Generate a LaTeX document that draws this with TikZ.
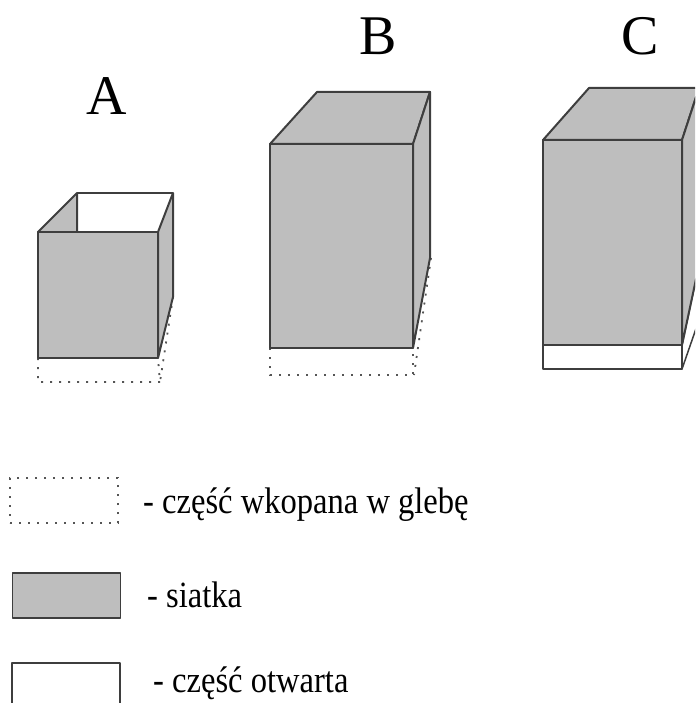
\documentclass[tikz,border=0pt]{standalone}
\usepackage{fontspec}
\setmainfont{Liberation Serif}
\definecolor{netgray}{RGB}{190,190,190}
\definecolor{edgegray}{RGB}{62,62,62}
\definecolor{dotgray}{RGB}{85,85,85}
\begin{document}
\begin{tikzpicture}[x=1pt,y=-1pt,
  net/.style={fill=netgray, draw=edgegray, line width=2pt, line join=round},
  openpart/.style={fill=white, draw=edgegray, line width=1.5pt, line join=round},
  buried/.style={draw=dotgray, line width=1.8pt, dash pattern=on 2pt off 7pt},
  boxlabel/.style={inner sep=0pt, anchor=base, font=\fontsize{56}{60}\selectfont},
  legtext/.style={inner sep=0pt, anchor=base west, font=\fontsize{37}{40}\selectfont},
  legbox/.style={inner sep=0pt, minimum width=108pt, minimum height=45pt}]
\clip (0,0) rectangle (695,703);

% --- A: open-topped cage, partly dug in ---
\draw[buried] (38,358) -- (38,382) -- (160,382) -- (158,358);
\draw[buried] (173,297) -- (160,382);
\draw[net] (158,232) -- (173,193) -- (173,297) -- (158,358) -- cycle;
\draw[net] (38,232) -- (77,193) -- (77,232) -- cycle;
\draw[edgegray, line width=2pt] (77,193) -- (173,193);
\draw[net] (38,232) rectangle (158,358);
\node[boxlabel] (labA) at (107,115) {A};

% --- B: closed cage, partly dug in ---
\draw[buried] (270,348) -- (270,375) -- (413,375) -- (413,348);
\draw[buried] (431,258) -- (414,375);
\draw[net] (270,144) -- (317,92) -- (430,92) -- (413,144) -- cycle;
\draw[net] (413,144) -- (430,92) -- (430,258) -- (413,348) -- cycle;
\draw[net] (270,144) rectangle (413,348);
\node[boxlabel] (labB) at (378,55) {B};

% --- C: closed cage with an open strip at the bottom ---
\draw[openpart] (682,345) -- (699,265) -- (699,320) -- (682,369) -- cycle;
\draw[net] (543,140) -- (589,88) -- (699,88) -- (682,140) -- cycle;
\draw[net] (682,140) -- (699,88) -- (699,265) -- (682,345) -- cycle;
\draw[openpart] (543,345) rectangle (682,369);
\draw[net] (543,140) rectangle (682,345);
\node[boxlabel] (labC) at (640,55) {C};

% --- legend ---
\node[legbox, buried] (legDug) at (64,500.5) {};
\node[legtext] (txtDug) at (143,513) {\scalebox{0.88}[1]{- część wkopana w glebę}};
\node[legbox, net, line width=1.6pt] (legNet) at (66.5,595.5) {};
\node[legtext] (txtNet) at (147,607) {\scalebox{0.88}[1]{- siatka}};
\node[legbox, openpart, minimum height=60pt, anchor=north] (legOpen) at (66,662) {};
\node[legtext] (txtOpen) at (153,692) {\scalebox{0.88}[1]{- część otwarta}};
\end{tikzpicture}
\end{document}
